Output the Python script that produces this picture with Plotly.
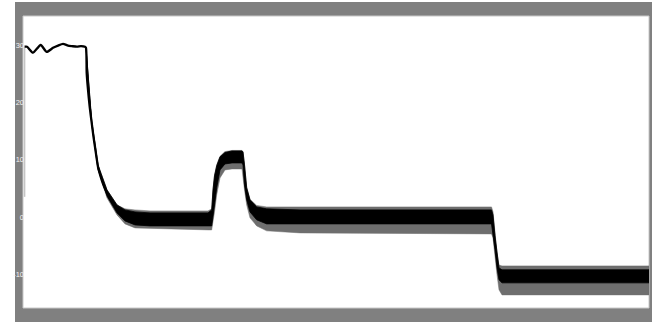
import plotly.graph_objects as go

# ---------------- data ----------------
# initial jump of the speed signal
rise_t = [0.008, 0.008]
rise_v = [3.5, 29.7]

# speed trend: steady ~30 then exponential decay toward 0
trend_t = [0.008, 0.02, 0.05, 0.0885, 0.1185, 0.15, 0.175, 0.2, 0.225, 0.245, 0.27, 0.29,
           0.31, 0.315, 0.3185, 0.325, 0.3335, 0.3435, 0.352, 0.36, 0.3675, 0.375, 0.385,
           0.395, 0.4075, 0.42, 0.445, 0.47, 0.5, 0.535]
trend_v = [29.7, 29.7, 28.66, 30.0, 28.8, 29.5, 29.9, 30.2, 29.9, 29.8, 29.7, 29.8,
           29.7, 29.5, 25.1, 22.2, 19.2, 16.4, 14.1, 12.2, 10.4, 8.72, 7.4,
           6.28, 5.1, 4.19, 2.62, 1.57, 0.70, 0.0]

# ripple band envelopes (time, upper spikes, upper core, lower core, lower spikes)
band_t = [0.315, 0.3435, 0.375, 0.42, 0.47, 0.51, 0.56, 0.635, 0.925, 0.9435,
          0.95, 0.9575, 0.9685, 0.985, 1.01, 1.045, 1.095, 1.10, 1.1075, 1.1185,
          1.135, 1.1685, 1.2185, 1.385, 2.3425, 2.35, 2.36, 2.37, 2.38, 2.395, 3.13]
hi_outer = [29.65, 16.75, 9.07, 4.71, 2.09, 1.40, 1.22, 1.05, 1.05, 1.4,
            4.9, 7.3, 9.1, 10.6, 11.4, 11.6, 11.6, 11.4, 9.2, 5.2,
            3.1, 2.0, 1.74, 1.74, 1.74, 0.9, -3.0, -6.3, -8.4, -8.55, -8.55]
hi_core = [29.65, 16.75, 9.07, 4.71, 2.09, 1.22, 0.87, 0.70, 0.70, 1.22,
           4.71, 7.15, 8.90, 10.47, 11.22, 11.51, 11.51, 11.34, 9.07, 5.06,
           2.97, 1.74, 1.40, 1.22, 1.22, 0.35, -3.3, -6.6, -8.9, -9.24, -9.24]
lo_core = [29.30, 16.22, 8.37, 3.66, 0.70, -0.70, -1.40, -1.57, -1.57, -1.57,
           -0.17, 2.09, 5.06, 8.20, 9.24, 9.42, 9.42, 9.07, 5.58, 2.97,
           0.87, -0.52, -1.22, -1.22, -1.22, -2.62, -5.76, -8.9, -10.99, -11.51, -11.51]
lo_outer = [29.30, 16.22, 8.20, 3.31, 0.35, -1.22, -1.92, -2.09, -2.27, -2.27,
            -0.87, 0.87, 3.84, 6.80, 8.20, 8.37, 8.37, 7.85, 4.71, 2.09,
            -0.17, -1.57, -2.44, -2.79, -2.97, -3.66, -6.63, -10.1, -12.73, -13.61, -13.61]

y_ticks = [-10, 0, 10, 20, 30]
y_tick_text = ["-10", "0", "10", "20", "30"]

# ---------------- figure ----------------
fig = go.Figure()

# outer (spiky) ripple region
fig.add_trace(go.Scatter(
    x=band_t + band_t[::-1], y=hi_outer + lo_outer[::-1],
    mode="lines", fill="toself", fillcolor="#6e6e6e",
    line=dict(color="#6e6e6e", width=0.5), hoverinfo="skip", showlegend=False))
# dense core of the ripple
fig.add_trace(go.Scatter(
    x=band_t + band_t[::-1], y=hi_core + lo_core[::-1],
    mode="lines", fill="toself", fillcolor="#000000",
    line=dict(color="#000000", width=0.8), hoverinfo="skip", showlegend=False))
# initial rise
fig.add_trace(go.Scatter(
    x=rise_t, y=rise_v, mode="lines",
    line=dict(color="#c4c4c4", width=1.5), hoverinfo="skip", showlegend=False))
# trend line
fig.add_trace(go.Scatter(
    x=trend_t, y=trend_v, mode="lines",
    line=dict(color="#000000", width=2.3, shape="spline", smoothing=0.6),
    hoverinfo="skip", showlegend=False))

# plot geometry in page pixels (body margin removed below)
FW, FH = 662, 322
L, R, T, B = 23, 649, 16, 308
W, H = R - L, B - T


def px(x):
    return (x - L) / W


def py(y):
    return (B - y) / H


fig.update_layout(
    width=FW, height=FH,
    margin=dict(l=L, r=FW - R, t=T, b=FH - B, pad=0),
    paper_bgcolor="white", plot_bgcolor="white",
    showlegend=False,
    shapes=[
        dict(type="rect", xref="paper", yref="paper", layer="below",
             x0=px(15), x1=px(652), y0=py(340), y1=py(2),
             fillcolor="#808080", line=dict(width=0)),
        dict(type="rect", xref="paper", yref="paper", layer="below",
             x0=0, x1=1, y0=0, y1=1,
             fillcolor="white", line=dict(color="#c8c8c8", width=1)),
    ],
)

fig.update_xaxes(range=[0, 3.13], showgrid=False, zeroline=False, showline=False,
                 showticklabels=False, ticks="", automargin=False)
fig.update_yaxes(range=[-15.9, 35.06], showgrid=False, zeroline=False, showline=False,
                 tickmode="array", tickvals=y_ticks, ticktext=y_tick_text, ticks="",
                 ticklabelstandoff=-2, automargin=False,
                 tickfont=dict(family="Liberation Sans Narrow, Liberation Sans, sans-serif",
                               size=7.5, color="#f2f2f2"))

fig.write_html("out.html",
               config={"displayModeBar": False, "staticPlot": True},
               post_script="document.body.style.margin='0';document.body.style.overflow='hidden';")
